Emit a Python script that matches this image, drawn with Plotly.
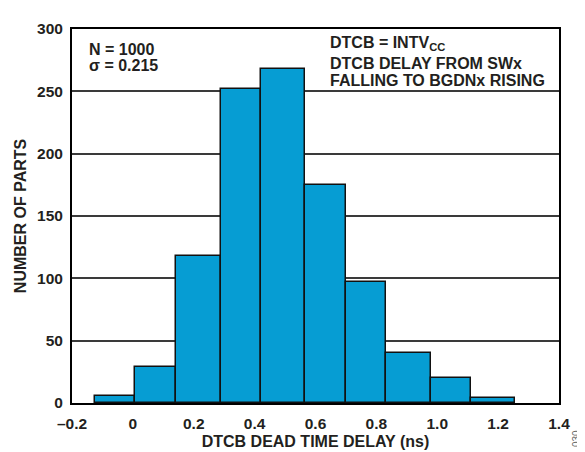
import plotly.graph_objects as go

# histogram bins (ns)
bin_edges = [-0.125, 0.008, 0.143, 0.288, 0.421, 0.566, 0.699, 0.833, 0.978, 1.111, 1.256]
part_counts = [6, 29, 118, 252, 268, 175, 97, 40, 20, 4]

x_ticks = [-0.2, 0, 0.2, 0.4, 0.6, 0.8, 1.0, 1.2, 1.4]
x_tick_labels = ["\u20130.2", "0", "0.2", "0.4", "0.6", "0.8", "1.0", "1.2", "1.4"]
y_ticks = [0, 50, 100, 150, 200, 250, 300]

centers = [(a + b) / 2 for a, b in zip(bin_edges[:-1], bin_edges[1:])]
widths = [b - a for a, b in zip(bin_edges[:-1], bin_edges[1:])]

TXT = "#231F20"
FONT = "Liberation Sans, Arial, sans-serif"

fig = go.Figure()
fig.add_trace(go.Bar(
    x=centers, y=part_counts, width=widths,
    marker=dict(color="#069DD3", line=dict(color="#111111", width=1.5)),
    hoverinfo="x+y",
))

def note(text, x, y, size=16):
    fig.add_annotation(text="<b>" + text + "</b>", xref="paper", yref="paper",
                       x=x, y=y, xanchor="left", yanchor="middle", showarrow=False,
                       font=dict(family=FONT, size=size, color=TXT))

note("N = 1000", 0.031, 0.945)
note("\u03c3 = 0.215", 0.031, 0.903)
note("DTCB = INTV<sub>CC</sub>", 0.526, 0.962)
note("DTCB DELAY FROM SWx", 0.526, 0.909)
note("FALLING TO BGDNx RISING", 0.526, 0.861)

# small figure code at the lower right edge
fig.add_annotation(text="030", xref="paper", yref="paper", x=1.036, y=-0.095,
                   xanchor="center", yanchor="middle", textangle=-90, showarrow=False,
                   font=dict(family=FONT, size=10, color="#666666"))

fig.update_layout(
    width=585, height=452,
    margin=dict(l=61, r=34, t=15, b=47),
    paper_bgcolor="white", plot_bgcolor="white",
    showlegend=False, bargap=0,
    font=dict(family=FONT, size=16, color=TXT),
    xaxis=dict(
        range=[-0.2, 1.4], tickvals=x_ticks, ticktext=["<b>%s</b>" % t for t in x_tick_labels],
        tickfont=dict(size=15.5),
        showgrid=False, zeroline=False, showline=True, mirror=True,
        linecolor="black", linewidth=2, ticks="", ticklabelstandoff=5,
        title=dict(text="<b>DTCB DEAD TIME DELAY (ns)</b>", standoff=5,
                   font=dict(family=FONT, size=16, color=TXT)),
    ),
    yaxis=dict(
        range=[0, 300], tickvals=y_ticks, ticktext=["<b>%d</b>" % t for t in y_ticks],
        tickfont=dict(size=15.5),
        showgrid=True, gridcolor="#3a3a3a", gridwidth=1.5, zeroline=False,
        showline=True, mirror=True, linecolor="black", linewidth=2, ticks="",
        ticklabelstandoff=4,
        title=dict(text="<b>NUMBER OF PARTS</b>", standoff=6,
                   font=dict(family=FONT, size=16, color=TXT)),
    ),
)

fig.write_html("out.html")
